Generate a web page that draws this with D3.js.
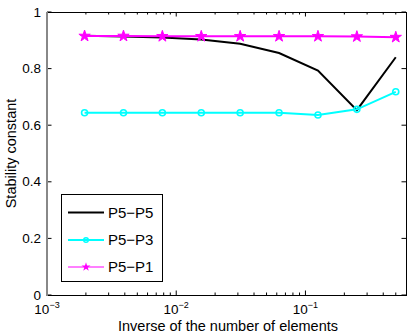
<!DOCTYPE html>
<html>
<head>
<meta charset="utf-8">
<script src="https://cdn.jsdelivr.net/npm/d3@7/dist/d3.min.js"></script>
<style>
  html, body { margin: 0; padding: 0; background: #fff; }
  svg { display: block; font-family: "Liberation Sans", Arial, Helvetica, sans-serif; }
</style>
</head>
<body>
<div id="chart"></div>
<script>
  // x = inverse of the number of elements (1/512 ... 1/2)
  const xs = [1/512, 1/256, 1/128, 1/64, 1/32, 1/16, 1/8, 1/4, 1/2];
  const p5p5 = [0.916, 0.913, 0.910, 0.903, 0.888, 0.855, 0.793, 0.653, 0.840];
  const p5p3 = [0.644, 0.644, 0.644, 0.644, 0.644, 0.644, 0.636, 0.656, 0.718];
  const p5p1 = [0.915, 0.915, 0.914, 0.914, 0.914, 0.914, 0.914, 0.913, 0.911];
  const seriesNames = ['P5\u2212P5', 'P5\u2212P3', 'P5\u2212P1'];
  const yTicks = [0, 0.2, 0.4, 0.6, 0.8, 1];
  const xMajor = [1e-3, 1e-2, 1e-1];

  const W = 415, H = 336;
  const L = 47, R = 406, T = 12, B = 295;

  const x = d3.scaleLog().domain([1e-3, 0.6]).range([L, R]);
  const y = d3.scaleLinear().domain([0, 1]).range([B, T]);

  const svg = d3.select('#chart').append('svg').attr('width', W).attr('height', H);

  // petits ticks de l'axe log
  const minor = [];
  for (let e = -3; e <= -1; e++) for (let m = 2; m <= 9; m++) {
    const v = m * Math.pow(10, e);
    if (v <= 0.6) minor.push(v);
  }

  const ax = svg.append('g').attr('stroke', '#000').attr('stroke-width', 1);
  minor.forEach((v) => {
    ax.append('line').attr('x1', x(v)).attr('x2', x(v)).attr('y1', B).attr('y2', B - 2.5);
    ax.append('line').attr('x1', x(v)).attr('x2', x(v)).attr('y1', T).attr('y2', T + 2.5);
  });
  xMajor.forEach((v) => {
    ax.append('line').attr('x1', x(v)).attr('x2', x(v)).attr('y1', B).attr('y2', B - 4.5);
    ax.append('line').attr('x1', x(v)).attr('x2', x(v)).attr('y1', T).attr('y2', T + 4.5);
  });
  yTicks.forEach((v) => {
    ax.append('line').attr('x1', L).attr('x2', L + 4.5).attr('y1', y(v)).attr('y2', y(v));
    ax.append('line').attr('x1', R).attr('x2', R - 4.5).attr('y1', y(v)).attr('y2', y(v));
  });

  // cadre
  svg.append('line').attr('x1', L).attr('x2', R).attr('y1', T + 0.5).attr('y2', T + 0.5).attr('stroke', '#000');
  svg.append('line').attr('x1', R + 0.5).attr('x2', R + 0.5).attr('y1', T).attr('y2', B).attr('stroke', '#000');
  svg.append('line').attr('x1', L).attr('x2', R + 1).attr('y1', B + 0.5).attr('y2', B + 0.5).attr('stroke', '#000');
  svg.append('line').attr('x1', L).attr('x2', L).attr('y1', T).attr('y2', B + 1).attr('stroke', '#888').attr('stroke-width', 2);

  // libellés des ticks
  yTicks.forEach((v) => {
    svg.append('text').attr('x', L - 6).attr('y', y(v) + 4.5)
      .attr('text-anchor', 'end').attr('font-size', 13.5).text(d3.format('~g')(v));
  });
  xMajor.forEach((v) => {
    const t = svg.append('text').attr('x', x(v)).attr('y', 314)
      .attr('text-anchor', 'middle').attr('font-size', 13.5);
    t.append('tspan').text('10');
    t.append('tspan').attr('dy', -6).attr('font-size', 9).text('\u2212' + Math.round(-Math.log10(v)));
  });

  svg.append('text').attr('x', 228).attr('y', 331).attr('text-anchor', 'middle')
    .attr('font-size', 14.5).text('Inverse of the number of elements');
  svg.append('text').attr('transform', `translate(15.5,${(T + B) / 2}) rotate(-90)`)
    .attr('text-anchor', 'middle').attr('font-size', 14.5).text('Stability constant');

  const line = d3.line().x((d) => x(d[0])).y((d) => y(d[1]));
  const zip = (vals) => xs.map((v, i) => [v, vals[i]]);

  const star = d3.symbol().type(d3.symbolStar).size(40);

  // P5-P5
  svg.append('path').datum(zip(p5p5)).attr('d', line)
    .attr('fill', 'none').attr('stroke', '#000').attr('stroke-width', 2);

  // P5-P3
  svg.append('path').datum(zip(p5p3)).attr('d', line)
    .attr('fill', 'none').attr('stroke', '#00ffff').attr('stroke-width', 2);
  svg.append('g').selectAll('circle').data(zip(p5p3)).join('circle')
    .attr('cx', (d) => x(d[0])).attr('cy', (d) => y(d[1])).attr('r', 3)
    .attr('fill', 'none').attr('stroke', '#00ffff').attr('stroke-width', 1.6);

  // P5-P1
  svg.append('path').datum(zip(p5p1)).attr('d', line)
    .attr('fill', 'none').attr('stroke', '#ff00ff').attr('stroke-width', 2);
  svg.append('g').selectAll('path').data(zip(p5p1)).join('path')
    .attr('transform', (d) => `translate(${x(d[0])},${y(d[1])})`)
    .attr('d', star).attr('fill', '#ff00ff').attr('stroke', '#ff00ff').attr('stroke-width', 1);

  // légende
  const lg = svg.append('g');
  lg.append('rect').attr('x', 61.5).attr('y', 194.5).attr('width', 101).attr('height', 87)
    .attr('fill', '#fff').attr('stroke', '#000').attr('stroke-width', 1);
  const rows = [212.5, 240, 267];
  const lx1 = 68, lx2 = 104, lxm = 86;
  lg.append('line').attr('x1', lx1).attr('x2', lx2).attr('y1', rows[0]).attr('y2', rows[0])
    .attr('stroke', '#000').attr('stroke-width', 2);
  lg.append('line').attr('x1', lx1).attr('x2', lx2).attr('y1', rows[1]).attr('y2', rows[1])
    .attr('stroke', '#00ffff').attr('stroke-width', 2);
  lg.append('circle').attr('cx', lxm).attr('cy', rows[1]).attr('r', 2.3)
    .attr('fill', 'none').attr('stroke', '#00ffff').attr('stroke-width', 1.5);
  lg.append('line').attr('x1', lx1).attr('x2', lx2).attr('y1', rows[2]).attr('y2', rows[2])
    .attr('stroke', '#ff00ff').attr('stroke-width', 1);
  lg.append('path').attr('transform', `translate(${lxm},${rows[2]})`)
    .attr('d', d3.symbol().type(d3.symbolStar).size(25)).attr('fill', '#ff00ff');
  seriesNames.forEach((n, i) => {
    lg.append('text').attr('x', 108).attr('y', rows[i] + 5).attr('font-size', 15).text(n);
  });
</script>
</body>
</html>
